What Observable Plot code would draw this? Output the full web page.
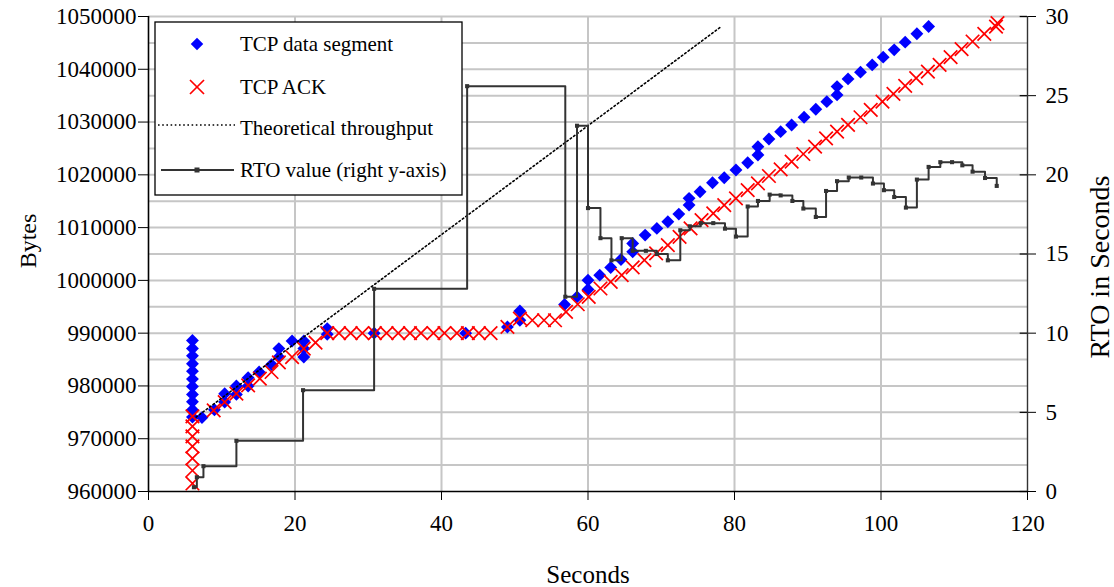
<!DOCTYPE html>
<html>
<head>
<meta charset="utf-8">
<script src="https://cdn.jsdelivr.net/npm/d3@7"></script>
<script src="https://cdn.jsdelivr.net/npm/@observablehq/plot@0.6"></script>
<style>
  html, body { margin: 0; padding: 0; background: #fff; }
  #chart svg { display: block; }
</style>
</head>
<body>
<div id="chart"></div>
<script>
// ---- Data ----
const segTime = [6.0, 6.0, 6.0, 6.0, 6.0, 6.0, 6.0, 6.0, 6.0, 6.0, 6.0,
  7.3, 9.0, 10.4, 10.4, 12.0, 12.0, 13.6, 13.6, 15.1, 16.8, 17.8, 17.8, 19.6,
  21.2, 21.2, 21.2, 24.4, 24.4, 30.8, 43.3, 49.0, 50.7, 50.7, 56.8, 58.5,
  60.0, 60.0, 61.6, 63.1, 64.5, 66.1, 66.1, 67.8, 69.4, 70.9, 72.4, 73.8, 73.8,
  75.3, 77.0, 78.6, 80.2, 81.8, 83.2, 83.2, 84.7, 86.3, 87.8, 89.5, 91.1, 92.6,
  94.0, 94.0, 95.5, 97.2, 98.8, 100.3, 101.8, 103.3, 104.9, 106.5];
const segBytes = [974100, 975500, 977000, 978400, 979900, 981300, 982800, 984200, 985700, 987100, 988600,
  974000, 975500, 976950, 978540, 978400, 979980, 979980, 981570, 982640, 984040, 985480, 987080, 988520,
  985480, 987080, 988520, 989790, 990870, 990000, 990000, 991180, 992450, 994210, 995430, 996870,
  998270, 1000040, 1000990, 1002450, 1003960, 1005410, 1007000, 1008580, 1009850, 1011100, 1012560, 1014270, 1015540,
  1016790, 1018500, 1019450, 1020910, 1022300, 1023760, 1025330, 1026790, 1028180, 1029450, 1030910, 1032430, 1033870,
  1035140, 1036720, 1038180, 1039450, 1040830, 1042300, 1043680, 1045140, 1046720, 1048100];

const ackTime = [6.0, 6.0, 6.0, 6.0, 6.0, 6.0, 6.0,
  8.9, 10.4, 12.0, 13.6, 15.2, 16.8, 17.8, 19.6, 21.2, 22.8,
  24.4, 26.0, 27.6, 29.2, 30.9, 32.5, 34.1, 35.7, 37.2, 38.9, 40.4, 42.1, 43.6, 45.1, 46.7,
  49.0, 50.7, 52.4, 54.0, 55.5, 57.0, 58.6, 60.1, 61.7, 63.1, 64.6, 66.1, 67.7, 69.3, 70.9,
  72.5, 74.0, 75.5, 77.1, 78.6, 80.2, 81.8, 83.2, 84.7, 86.3, 87.8, 89.4, 91.0, 92.5, 94.0,
  95.5, 97.2, 98.6, 100.2, 101.7, 103.3, 104.8, 106.4, 108.0, 109.5, 111.0, 112.5, 114.1,
  115.7, 115.9];
const ackBytes = [961520, 963980, 966260, 968540, 970440, 972330, 974230,
  975370, 976950, 978540, 980110, 981380, 982640, 984480, 985480, 987080, 988220,
  990000, 990000, 990000, 990000, 990000, 990000, 990000, 990000, 990000, 990000, 990000, 990000, 990000, 990000, 990000,
  991180, 992770, 992450, 992450, 992450, 994020, 995480, 996870, 998460, 999720, 1000990, 1002450, 1003830, 1005100, 1006680,
  1008260, 1009850, 1011420, 1012690, 1014270, 1015540, 1017120, 1018390, 1019780, 1021040, 1022490, 1023950, 1025330, 1026920, 1028180,
  1029450, 1030910, 1032300, 1033870, 1035330, 1036850, 1038310, 1039570, 1040830, 1042300, 1043810, 1045260, 1046720,
  1048100, 1048730];

const theoTime = [6.5, 78.2];
const theoBytes = [974100, 1048100];

const rtoTime = [6.2, 6.6, 7.5, 12.0, 21.1, 30.8, 43.5, 56.9, 58.5, 60.0, 61.7, 63.2, 64.6,
  66.1, 67.9, 69.4, 70.9, 72.6, 73.9, 75.4, 77.1, 78.7, 80.2, 81.8, 83.2, 84.8, 86.3, 87.9,
  89.4, 91.1, 92.5, 94.0, 95.6, 97.3, 98.9, 100.4, 101.8, 103.4, 104.9, 106.5, 108.1, 109.7,
  111.1, 112.5, 114.2, 115.8];
const rtoValue = [0.27, 0.9, 1.6, 3.2, 6.4, 12.8, 25.6, 12.3, 23.1, 17.9, 16.0, 14.6, 16.0,
  15.2, 15.2, 15.0, 14.6, 16.5, 16.75, 16.95, 16.95, 16.6, 16.1, 18.0, 18.35, 18.75, 18.7, 18.35,
  17.87, 17.34, 18.98, 19.6, 19.83, 19.83, 19.45, 19.03, 18.6, 17.93, 19.7, 20.5, 20.8, 20.8,
  20.6, 20.2, 19.8, 19.3];

const xTicks = [0, 20, 40, 60, 80, 100, 120];
const xGrid = [20, 40, 60, 80, 100];
const yTicks = [960000, 970000, 980000, 990000, 1000000, 1010000, 1020000, 1030000, 1040000, 1050000];
const yGrid = [965000, 970000, 975000, 980000, 985000, 990000, 995000, 1000000, 1005000, 1010000,
  1015000, 1020000, 1025000, 1030000, 1035000, 1040000, 1045000, 1050000];
const rtoTicks = [0, 5, 10, 15, 20, 25, 30];

const legendLabels = ["TCP data segment", "TCP ACK", "Theoretical throughput", "RTO value (right y-axis)"];

// right axis (seconds) mapped onto the byte scale
const yMin = 960000, yMax = 1050000, rtoMax = 30;
const rtoToBytes = r => yMin + r * (yMax - yMin) / rtoMax;

const FONT = "'Liberation Serif', 'Times New Roman', serif";
const DOTS = "1.6,2.6";

const seg = segTime.map((t, i) => ({t, b: segBytes[i]}));
const ack = ackTime.map((t, i) => ({t, b: ackBytes[i]}));
const theo = theoTime.map((t, i) => ({t, b: theoBytes[i]}));
const rto = rtoTime.map((t, i) => ({t, r: rtoValue[i], b: rtoToBytes(rtoValue[i])}));

function legendMark() {
  const g = d3.create("svg:g").attr("font-family", FONT).attr("font-size", 21).attr("text-anchor", "start");
  const x0 = 155, y0 = 22, w = 307, h = 173;
  g.append("rect").attr("x", x0).attr("y", y0).attr("width", w).attr("height", h)
    .attr("fill", "white").attr("stroke", "black").attr("stroke-width", 1.3);
  const rows = [44, 87, 128, 170];
  const sx = 197, tx = 240;
  g.append("path").attr("d", d3.symbol(d3.symbolDiamond2, 100)())
    .attr("transform", `translate(${sx},${rows[0]})`).attr("fill", "blue");
  g.append("path").attr("d", d3.symbol(d3.symbolTimes, 130)())
    .attr("transform", `translate(${sx},${rows[1]})`).attr("fill", "none").attr("stroke", "red").attr("stroke-width", 1.7);
  g.append("line").attr("x1", 158).attr("x2", 235).attr("y1", rows[2] - 3).attr("y2", rows[2] - 3)
    .attr("stroke", "black").attr("stroke-width", 1.6).attr("stroke-dasharray", DOTS);
  g.append("line").attr("x1", 161).attr("x2", 234).attr("y1", rows[3]).attr("y2", rows[3])
    .attr("stroke", "#333").attr("stroke-width", 2);
  g.append("rect").attr("x", sx - 2.5).attr("y", rows[3] - 2.5).attr("width", 5).attr("height", 5).attr("fill", "#333");
  legendLabels.forEach((s, i) => {
    g.append("text").attr("x", tx).attr("y", rows[i]).attr("dy", "0.35em").attr("fill", "black")
      .attr("text-anchor", "start").text(s);
  });
  return g.node();
}

const chart = Plot.plot({
  width: 1114,
  height: 587,
  marginLeft: 148,
  marginRight: 87,
  marginTop: 16,
  marginBottom: 96,
  style: {fontFamily: FONT, fontSize: "23px", background: "white", color: "black", overflow: "visible"},
  x: {domain: [0, 120]},
  y: {domain: [yMin, yMax]},
  marks: [
    Plot.ruleY(yGrid, {stroke: "#c6c6c6", strokeWidth: 2}),
    Plot.ruleX(xGrid, {stroke: "#c6c6c6", strokeWidth: 2}),
    Plot.axisX(xTicks, {tickSize: 9, tickPadding: 14, fontSize: 23, label: null, tickFormat: d3.format("d")}),
    Plot.axisY(yTicks, {anchor: "left", tickSize: 10, tickPadding: 2, fontSize: 23, label: null, tickFormat: d3.format("d")}),
    Plot.axisY(rtoTicks.map(rtoToBytes), {anchor: "right", tickSize: 8, tickPadding: 10, fontSize: 23, label: null,
      tickFormat: d => String(Math.round((d - yMin) * rtoMax / (yMax - yMin)))}),
    Plot.ruleY(rtoTicks.map(rtoToBytes), {x1: 119, x2: 120, stroke: "black", strokeWidth: 1.2}),
    Plot.ruleX([0], {stroke: "black", strokeWidth: 1.6}),
    Plot.ruleX([120], {stroke: "#333", strokeWidth: 1.4}),
    Plot.ruleY([yMin], {stroke: "black", strokeWidth: 1.6}),
    Plot.dot(seg, {x: "t", y: "b", symbol: "diamond2", r: 5.8, fill: "blue", stroke: "none"}),
    Plot.dot(ack, {x: "t", y: "b", symbol: "times", r: 6.2, stroke: "red", strokeWidth: 1.7, fill: "none"}),
    Plot.line(theo, {x: "t", y: "b", stroke: "black", strokeWidth: 1.6, strokeDasharray: DOTS}),
    Plot.line(rto, {x: "t", y: "b", curve: "step-after", stroke: "#333", strokeWidth: 2}),
    Plot.dot(rto, {x: "t", y: "b", symbol: "square", r: 2.3, fill: "#333", stroke: "none"}),
    Plot.text(["Bytes"], {frameAnchor: "left", textAnchor: "middle", dx: -120, dy: -13, rotate: -90, fontSize: 24, fill: "black"}),
    Plot.text(["RTO in Seconds"], {frameAnchor: "right", textAnchor: "middle", dx: 73, dy: 13, rotate: -90, fontSize: 28, fill: "black"}),
    Plot.text(["Seconds"], {frameAnchor: "bottom", textAnchor: "middle", dy: 91, fontSize: 25, fill: "black"}),
    legendMark
  ]
});
document.getElementById("chart").appendChild(chart);
</script>
</body>
</html>
